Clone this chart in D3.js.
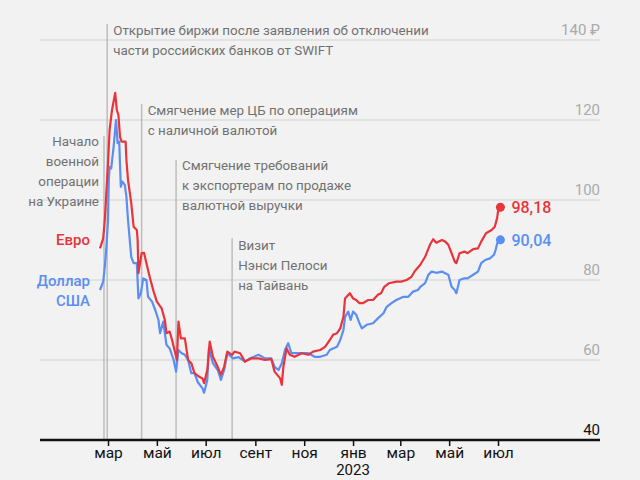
<!DOCTYPE html>
<html>
<head>
<meta charset="utf-8">
<script src="https://cdn.jsdelivr.net/npm/d3@7"></script>
<style>
  html, body { margin: 0; padding: 0; background: #f2f2f2; }
  svg { display: block; font-family: Roboto, "Noto Sans", sans-serif; }
</style>
</head>
<body>
<div id="chart"></div>
<script>
// data (rubles per unit)
var eurDates = ['2022-02-19','2022-02-23','2022-02-25','2022-03-01','2022-03-03','2022-03-06','2022-03-10','2022-03-12','2022-03-14','2022-03-16',
  '2022-03-18','2022-03-23','2022-03-24','2022-03-26','2022-03-30','2022-04-02','2022-04-06','2022-04-07','2022-04-08','2022-04-12',
  '2022-04-15','2022-04-18','2022-04-22','2022-04-27','2022-05-01','2022-05-07','2022-05-11','2022-05-13','2022-05-17','2022-05-20',
  '2022-05-24','2022-05-26','2022-05-28','2022-05-31','2022-06-05','2022-06-09','2022-06-13','2022-06-17','2022-06-23','2022-06-27',
  '2022-06-29','2022-07-03','2022-07-06','2022-07-10','2022-07-16','2022-07-20','2022-07-24','2022-07-28','2022-08-03','2022-08-06',
  '2022-08-13','2022-08-19','2022-08-27','2022-09-05','2022-09-13','2022-09-21','2022-09-25','2022-10-02','2022-10-04','2022-10-06',
  '2022-10-10','2022-10-14','2022-10-20','2022-10-29','2022-11-06','2022-11-12','2022-11-21','2022-11-27','2022-12-03','2022-12-07',
  '2022-12-12','2022-12-16','2022-12-20','2022-12-22','2022-12-28','2023-01-01','2023-01-05','2023-01-09','2023-01-13','2023-01-20',
  '2023-01-26','2023-02-01','2023-02-05','2023-02-09','2023-02-15','2023-02-24','2023-03-02','2023-03-09','2023-03-15','2023-03-19',
  '2023-03-26','2023-04-01','2023-04-07','2023-04-11','2023-04-15','2023-04-22','2023-04-26','2023-04-30','2023-05-04','2023-05-08',
  '2023-05-10','2023-05-14','2023-05-20','2023-05-24','2023-05-31','2023-06-06','2023-06-10','2023-06-16','2023-06-23','2023-06-27',
  '2023-06-30','2023-07-01','2023-07-04'];
var eurValues = [87.9, 90.4, 95.0, 109.2, 117.5, 122.5, 126.8, 122.5, 121.3, 115.8,
  114.6, 114.6, 110.0, 105.0, 99.3, 93.3, 92.5, 90.0, 81.7, 86.7,
  86.8, 84.2, 80.8, 77.1, 74.6, 72.9, 70.0, 66.7, 67.1, 65.0,
  61.7, 60.0, 69.6, 65.4, 65.4, 60.0, 59.2, 56.7, 55.8, 55.4,
  54.2, 57.5, 64.6, 60.8, 58.3, 56.3, 58.3, 62.1, 61.3, 62.1,
  61.7, 59.6, 60.4, 60.4, 60.0, 60.2, 57.1, 55.4, 53.8, 58.3,
  62.9, 61.3, 60.8, 61.7, 61.3, 62.1, 62.5, 63.3, 65.0, 66.3,
  66.7, 67.9, 70.8, 75.4, 76.7, 75.4, 75.0, 74.2, 74.2, 75.0,
  75.0, 76.3, 76.7, 78.3, 79.2, 79.6, 79.6, 80.0, 80.8, 82.2,
  83.8, 85.8, 88.8, 90.2, 89.3, 90.0, 89.6, 88.8, 86.7, 84.6,
  84.2, 86.7, 87.1, 86.7, 87.7, 87.9, 89.6, 91.7, 92.5, 93.3,
  95.6, 97.1, 98.18];

var usdDates = ['2022-02-19','2022-02-23','2022-02-25','2022-02-27','2022-03-01','2022-03-02','2022-03-03','2022-03-05','2022-03-08','2022-03-11',
  '2022-03-13','2022-03-15','2022-03-17','2022-03-19','2022-03-22','2022-03-24','2022-03-26','2022-03-30','2022-04-02','2022-04-06',
  '2022-04-08','2022-04-11','2022-04-14','2022-04-18','2022-04-20','2022-04-25','2022-04-29','2022-05-03','2022-05-05','2022-05-09',
  '2022-05-13','2022-05-17','2022-05-22','2022-05-25','2022-05-28','2022-06-01','2022-06-05','2022-06-09','2022-06-13','2022-06-17',
  '2022-06-21','2022-06-27','2022-06-29','2022-07-03','2022-07-05','2022-07-10','2022-07-16','2022-07-20','2022-07-24','2022-07-28',
  '2022-08-04','2022-08-11','2022-08-19','2022-08-25','2022-09-05','2022-09-13','2022-09-21','2022-09-25','2022-09-30','2022-10-04',
  '2022-10-08','2022-10-12','2022-10-16','2022-10-20','2022-10-29','2022-11-06','2022-11-14','2022-11-21','2022-11-29','2022-12-03',
  '2022-12-07','2022-12-12','2022-12-16','2022-12-20','2022-12-22','2022-12-26','2022-12-29','2023-01-01','2023-01-05','2023-01-09',
  '2023-01-12','2023-01-18','2023-01-26','2023-02-01','2023-02-08','2023-02-12','2023-02-18','2023-02-24','2023-03-05','2023-03-11',
  '2023-03-17','2023-03-23','2023-03-26','2023-04-01','2023-04-05','2023-04-09','2023-04-15','2023-04-22','2023-04-26','2023-04-30',
  '2023-05-04','2023-05-08','2023-05-10','2023-05-14','2023-05-19','2023-05-24','2023-05-31','2023-06-06','2023-06-10','2023-06-15',
  '2023-06-21','2023-06-26','2023-06-28','2023-06-30','2023-07-04'];
var usdValues = [77.5, 79.6, 83.3, 88.3, 95.0, 105.0, 108.3, 107.9, 113.3, 120.0,
  114.2, 114.6, 103.3, 104.6, 103.8, 100.8, 95.0, 85.8, 84.2, 84.2,
  75.4, 76.7, 80.4, 80.0, 75.8, 74.6, 72.5, 70.0, 66.7, 69.6,
  63.8, 62.9, 60.0, 57.1, 62.5, 61.7, 61.3, 60.0, 56.7, 56.7,
  54.5, 52.9, 51.8, 55.0, 62.9, 59.2, 57.5, 55.0, 57.5, 61.7,
  60.4, 60.7, 59.6, 60.4, 61.3, 60.4, 60.4, 58.3, 57.5, 59.2,
  62.5, 64.2, 61.7, 61.7, 61.7, 61.7, 60.8, 60.8, 61.3, 62.5,
  62.9, 63.3, 65.0, 67.5, 70.8, 72.1, 70.0, 72.1, 71.3, 69.2,
  67.9, 68.8, 69.2, 70.4, 71.7, 73.3, 74.2, 75.0, 75.8, 75.8,
  77.1, 77.5, 78.3, 79.2, 81.3, 82.1, 81.8, 82.1, 81.7, 81.3,
  78.3, 77.5, 76.7, 80.0, 80.4, 80.4, 81.3, 82.1, 84.2, 85.0,
  85.4, 86.3, 87.5, 89.2, 90.04];

var yTicks = [40, 60, 80, 100, 120, 140];
var monthTicks = ['2022-03-01','2022-05-01','2022-07-01','2022-09-01','2022-11-01','2023-01-01','2023-03-01','2023-05-01','2023-07-01'];
var monthLabels = ['мар','май','июл','сент','ноя','янв','мар','май','июл'];

var eventDates = ['2022-02-24','2022-02-28','2022-04-12','2022-05-25','2022-08-03'];
var eventTexts = [
  ['Начало','военной','операции','на Украине'],
  ['Открытие биржи после заявления об отключении','части российских банков от SWIFT'],
  ['Смягчение мер ЦБ по операциям','с наличной валютой'],
  ['Смягчение требований','к экспортерам по продаже','валютной выручки'],
  ['Визит','Нэнси Пелоси','на Тайвань']
];

// layout of the notes: top of the vertical rule, text side and first baseline
var noteLayout = [
  {top: 136, side: 'left', base: 146},
  {top: 24, side: 'right', base: 35},
  {top: 104, side: 'right', base: 115},
  {top: 160, side: 'right', base: 170},
  {top: 238, side: 'right', base: 250}
];

var width = 640, height = 480;
var left = 40, right = 600;
var red = '#e8343a', blue = '#5b8ef2', noteGrey = '#717171';

var parse = d3.timeParse('%Y-%m-%d');

var svg = d3.select('#chart').append('svg')
    .attr('width', width).attr('height', height);

svg.append('rect').attr('width', width).attr('height', height).attr('fill', '#f2f2f2');

// scales
var x = d3.scaleTime()
    .domain([parse('2022-03-01'), parse('2023-07-01')])
    .range([108, 498]);
var y = d3.scaleLinear().domain([40, 140]).range([440, 40]);

// grid + y labels
svg.selectAll('.grid')
    .data(yTicks.filter(function(d) { return d > 40; }))
    .enter().append('line')
    .attr('x1', left).attr('x2', right)
    .attr('y1', function(d) { return y(d); }).attr('y2', function(d) { return y(d); })
    .attr('stroke', '#dcdcdc').attr('stroke-width', 1.5);

svg.selectAll('.ylab')
    .data(yTicks).enter().append('text')
    .attr('x', right).attr('y', function(d) { return y(d) - 5; })
    .attr('text-anchor', 'end')
    .attr('font-size', '15px')
    .attr('fill', function(d) { return d == 40 ? '#111' : '#aaaaaa'; })
    .text(function(d) { return d == 140 ? d + ' ₽' : d; });

// event rules and notes
eventDates.forEach(function(ds, i) {
    var lay = noteLayout[i];
    var ex = x(parse(ds));
    svg.append('line')
        .attr('x1', ex).attr('x2', ex)
        .attr('y1', lay.top).attr('y2', 440)
        .attr('stroke', '#bdbdbd').attr('stroke-width', 1.5);
    var t = svg.append('text')
        .attr('font-size', '13.4px').attr('fill', noteGrey)
        .attr('text-anchor', lay.side == 'left' ? 'end' : 'start');
    eventTexts[i].forEach(function(line, j) {
        t.append('tspan')
            .attr('x', lay.side == 'left' ? ex - 5 : ex + 6)
            .attr('y', lay.base + j * 20)
            .text(line);
    });
});

// x axis
var xAxis = d3.axisBottom(x)
    .tickValues(monthTicks.map(parse))
    .tickSize(6)
    .tickPadding(1)
    .tickFormat(function(d, i) { return monthLabels[i]; });

var gx = svg.append('g').attr('transform', 'translate(0,440)').call(xAxis);
gx.select('.domain').remove();
gx.selectAll('.tick line').attr('stroke', '#111').attr('stroke-width', 1.5);
gx.selectAll('.tick text')
    .attr('font-family', 'Roboto, "Noto Sans", sans-serif')
    .attr('font-size', '15.5px').attr('fill', '#111');

svg.append('text')
    .attr('x', x(parse('2023-01-01'))).attr('y', 475)
    .attr('text-anchor', 'middle').attr('font-size', '15px').attr('fill', '#111')
    .text('2023');

svg.append('line')
    .attr('x1', left).attr('x2', right).attr('y1', 440).attr('y2', 440)
    .attr('stroke', '#111').attr('stroke-width', 2.5);

// lines
var line = d3.line()
    .x(function(d) { return x(d[0]); })
    .y(function(d) { return y(d[1]); });

var usd = d3.zip(usdDates.map(parse), usdValues);
var eur = d3.zip(eurDates.map(parse), eurValues);

[[usd, blue], [eur, red]].forEach(function(s) {
    svg.append('path').datum(s[0])
        .attr('d', line)
        .attr('fill', 'none').attr('stroke', s[1])
        .attr('stroke-width', 2.2)
        .attr('stroke-linejoin', 'round');
    var last = s[0][s[0].length - 1];
    svg.append('circle')
        .attr('cx', x(last[0])).attr('cy', y(last[1])).attr('r', 4.5)
        .attr('fill', s[1]);
    svg.append('text')
        .attr('x', x(last[0]) + 11).attr('y', y(last[1]) + 6)
        .attr('font-size', '16px').attr('font-weight', 500)
        .attr('fill', s[1])
        .text(d3.format('.2f')(last[1]).replace('.', ','));
});

// series labels
svg.append('text').attr('x', 90).attr('y', 245)
    .attr('text-anchor', 'end').attr('font-size', '15px').attr('font-weight', 500)
    .attr('fill', red).text('Евро');
var ul = svg.append('text').attr('text-anchor', 'end')
    .attr('font-size', '15px').attr('font-weight', 500).attr('fill', blue);
ul.append('tspan').attr('x', 90).attr('y', 286).text('Доллар');
ul.append('tspan').attr('x', 90).attr('y', 306).text('США');
</script>
</body>
</html>
